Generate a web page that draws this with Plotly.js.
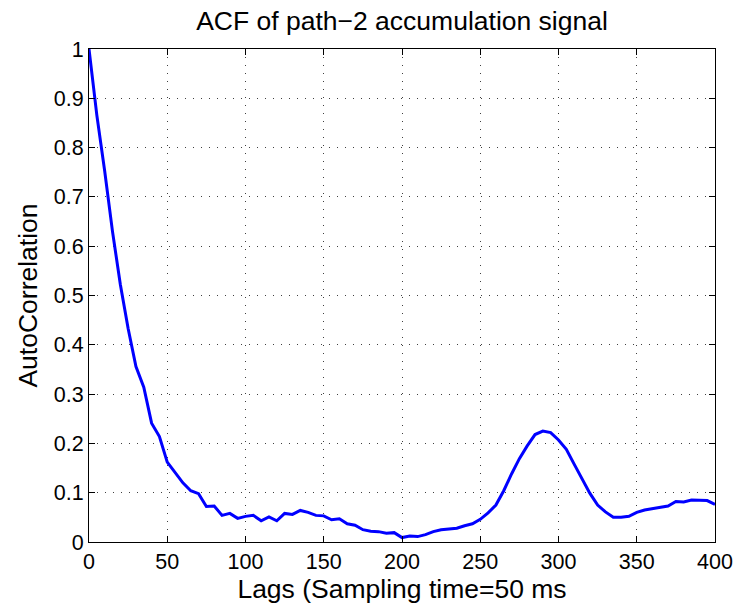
<!DOCTYPE html>
<html>
<head>
<meta charset="utf-8">
<script src="https://cdn.plot.ly/plotly-3.0.1.min.js"></script>
<style>html,body{margin:0;padding:0;background:#fff;}#chart{width:738px;height:612px;}</style>
</head>
<body>
<div id="chart"></div>
<script>
const lags = [0,5,10,15,20,25,30,35,40,45,50,55,60,65,70,75,80,85,90,95,
  100,105,110,115,120,125,130,135,140,145,150,155,160,165,170,175,180,185,190,195,
  200,205,210,215,220,225,230,235,240,245,250,255,260,265,270,275,280,285,290,295,
  300,305,310,315,320,325,330,335,340,345,350,355,360,365,370,375,380,385,390,395,400];
const acf = [1.0,0.866,0.753,0.63,0.523,0.433,0.356,0.314,0.241,0.214,
  0.162,0.141,0.12,0.104,0.098,0.072,0.073,0.054,0.058,0.048,
  0.052,0.054,0.043,0.051,0.043,0.058,0.056,0.064,0.060,0.054,
  0.053,0.045,0.047,0.037,0.034,0.025,0.022,0.021,0.018,0.019,
  0.009,0.012,0.011,0.015,0.021,0.025,0.027,0.028,0.033,0.037,
  0.046,0.059,0.075,0.104,0.138,0.169,0.195,0.218,0.225,0.222,
  0.207,0.188,0.158,0.127,0.099,0.075,0.061,0.050,0.050,0.052,
  0.060,0.065,0.068,0.070,0.073,0.082,0.081,0.085,0.085,0.084,0.076];
const xTickVals = [0,50,100,150,200,250,300,350,400];
const xTickText = ['0','50','100','150','200','250','300','350','400'];
const yTickVals = [0,0.1,0.2,0.3,0.4,0.5,0.6,0.7,0.8,0.9,1];
const yTickText = ['0','0.1','0.2','0.3','0.4','0.5','0.6','0.7','0.8','0.9','1'];
const titleText = 'ACF of path\u22122 accumulation signal';
const xLabel = 'Lags (Sampling time=50 ms';
const yLabel = 'AutoCorrelation';

const FONT = 'Liberation Sans, Arial, Helvetica, sans-serif';
const axisCommon = {
  showline: true, linecolor: '#000', linewidth: 1, mirror: 'ticks',
  ticks: 'inside', ticklen: 6, tickwidth: 1, tickcolor: '#000',
  showgrid: true, gridcolor: 'rgba(0,0,0,0.75)', gridwidth: 1, griddash: '1px,7px',
  zeroline: false, tickfont: {family: FONT, size: 21.5, color: '#000'}
};
const trace = {
  x: lags, y: acf, type: 'scatter', mode: 'lines',
  line: {color: '#0000ff', width: 3}, hoverinfo: 'skip'
};
const layout = {
  width: 738, height: 612,
  margin: {l: 89, r: 23, t: 49, b: 70},
  paper_bgcolor: '#fff', plot_bgcolor: '#fff',
  showlegend: false,
  font: {family: FONT, color: '#000'},
  title: {text: titleText, font: {family: FONT, size: 26.5, color: '#000'},
    x: 0.5449, xanchor: 'center', xref: 'paper', y: 1 - 21/612, yref: 'container', yanchor: 'middle'},
  xaxis: Object.assign({}, axisCommon, {
    range: [0, 400], tickvals: xTickVals, ticktext: xTickText,
    title: {text: xLabel, font: {family: FONT, size: 26.5, color: '#000'}, standoff: 4}
  }),
  yaxis: Object.assign({}, axisCommon, {
    range: [0, 1], tickvals: yTickVals, ticktext: yTickText,
    title: {text: yLabel, font: {family: FONT, size: 26.5, color: '#000'}, standoff: 8}
  })
};
layout.title.x = 0.5;
Plotly.newPlot('chart', [trace], layout, {displayModeBar: false, staticPlot: true});
</script>
</body>
</html>
